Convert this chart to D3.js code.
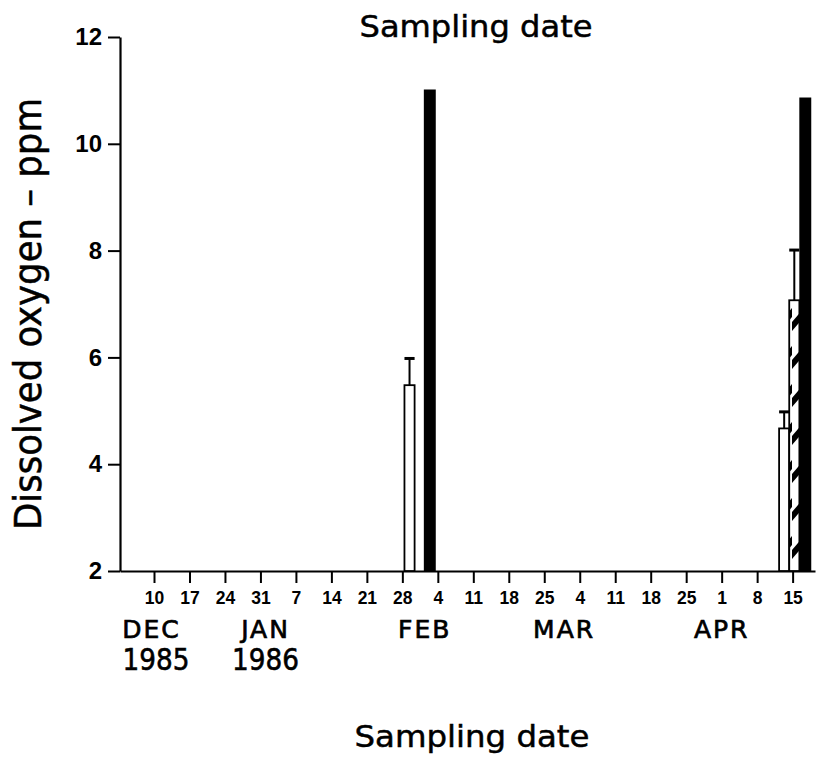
<!DOCTYPE html>
<html>
<head>
<meta charset="utf-8">
<script src="https://cdn.jsdelivr.net/npm/d3@7/dist/d3.min.js"></script>
<style>
html,body{margin:0;padding:0;background:#fff;}
svg{display:block;}
</style>
</head>
<body>
<svg id="chart" width="822" height="762"></svg>
<script>
// ---- data ----
const weekTicks = ["1985-12-10","1985-12-17","1985-12-24","1985-12-31","1986-01-07","1986-01-14","1986-01-21","1986-01-28","1986-02-04","1986-02-11","1986-02-18","1986-02-25","1986-03-04","1986-03-11","1986-03-18","1986-03-25","1986-04-01","1986-04-08","1986-04-15"];
const monthLabels = ["DEC","JAN","FEB","MAR","APR"];
const monthLabelDates = ["1985-12-09T12:00","1986-01-01T00:00","1986-02-01T10:00","1986-02-28T22:00","1986-04-01T00:00"];
const yearLabels = ["1985","1986"];
const yearLabelDates = ["1985-12-10T10:00","1986-01-01T00:00"];
const yTicks = [2,4,6,8,10,12];

// bar centre dates and values, one array per series
const openDates = ["1986-01-29T10:00","1986-04-13T08:00"];
const openValues = [5.48, 4.67];
const openErrors = [5.98, 4.98];
const hatchedDates = ["1986-04-15T08:00"];
const hatchedValues = [7.07];
const hatchedErrors = [8.01];
const blackDates = ["1986-02-02T10:00","1986-04-17T12:00"];
const blackValues = [11.0, 10.85];

const parse = s => new Date(s.length > 10 ? s : s + "T00:00");

const svg = d3.select("#chart");
const mLeft = 120, mRight = 815, mTop = 37, mBottom = 571;

const x = d3.scaleTime()
  .domain([parse("1985-12-03T07:00"), parse("1986-04-19T10:00")])
  .range([mLeft, mRight]);
const y = d3.scaleLinear().domain([2, 12]).range([mBottom, mTop]);

const barDays = 2; // bar width in days
const barW = d => (x(d3.timeHour.offset(d, barDays*12)) - x(d3.timeHour.offset(d, -barDays*12)));

// hatch pattern
const defs = svg.append("defs");
const pat = defs.append("pattern")
  .attr("id", "hatch")
  .attr("patternUnits", "userSpaceOnUse")
  .attr("width", 12).attr("height", 38);
pat.append("rect").attr("width", 12).attr("height", 38).attr("fill", "#fff");
pat.append("polygon").attr("points", "0,18 12,4 12,13 0,27").attr("fill", "#000");

// axes
const xAxis = d3.axisBottom(x)
  .tickValues(weekTicks.map(parse))
  .tickFormat(d3.timeFormat("%-d"))
  .tickSize(12).tickSizeOuter(0).tickPadding(9);
const gx = svg.append("g").attr("transform", `translate(0,${mBottom})`).call(xAxis);
gx.select(".domain").attr("stroke-width", 2.2);
gx.selectAll(".tick line").attr("stroke-width", 2);
gx.selectAll(".tick text").attr("font-family", "Liberation Sans, Arial, sans-serif")
  .attr("font-weight", "bold").attr("font-size", 17.5).attr("fill", "#000");

const yAxis = d3.axisLeft(y).tickValues(yTicks).tickSize(12).tickSizeOuter(0).tickPadding(6);
const gy = svg.append("g").attr("transform", `translate(${mLeft},0)`).call(yAxis);
gy.select(".domain").attr("stroke-width", 2.2);
gy.selectAll(".tick line").attr("stroke-width", 2);
gy.selectAll(".tick text").attr("font-family", "Liberation Sans, Arial, sans-serif")
  .attr("font-weight", "bold").attr("font-size", 24).attr("fill", "#000");

// bars
function drawBars(dates, values, fill, cls) {
  const g = svg.append("g").attr("class", cls);
  dates.forEach((ds, i) => {
    const d = parse(ds);
    const w = barW(d);
    const x0 = x(d) - w/2;
    g.append("rect")
      .attr("x", x0).attr("y", y(values[i]))
      .attr("width", w).attr("height", y(2) - y(values[i]))
      .attr("fill", fill).attr("stroke", "#000").attr("stroke-width", 1.8);
  });
}
function drawErrors(dates, values, errs) {
  const g = svg.append("g");
  dates.forEach((ds, i) => {
    const d = parse(ds);
    const w = barW(d);
    const cx = x(d);
    g.append("line").attr("x1", cx).attr("x2", cx)
      .attr("y1", y(values[i])).attr("y2", y(errs[i]))
      .attr("stroke", "#000").attr("stroke-width", 2);
    g.append("line").attr("x1", cx - w/2).attr("x2", cx + w/2)
      .attr("y1", y(errs[i])).attr("y2", y(errs[i]))
      .attr("stroke", "#000").attr("stroke-width", 3);
  });
}
drawBars(openDates, openValues, "#fff", "open");
drawErrors(openDates, openValues, openErrors);
drawBars(hatchedDates, hatchedValues, "url(#hatch)", "hatched");
drawErrors(hatchedDates, hatchedValues, hatchedErrors);
drawBars(blackDates, blackValues, "#000", "black");

// month and year labels
const labFont = "DejaVu Sans, sans-serif";
svg.append("g").selectAll("text").data(monthLabels).join("text")
  .attr("x", (d, i) => x(parse(monthLabelDates[i])))
  .attr("y", 638)
  .attr("text-anchor", "middle")
  .attr("font-family", labFont).attr("font-size", 25)
  .attr("letter-spacing", 2)
  .attr("fill", "#000")
  .attr("stroke", "#000").attr("stroke-width", 0.7)
  .text(d => d);
svg.append("g").selectAll("text").data(yearLabels).join("text")
  .attr("x", (d, i) => x(parse(yearLabelDates[i])))
  .attr("y", 670)
  .attr("text-anchor", "middle")
  .attr("font-family", labFont).attr("font-size", 30)
  .attr("fill", "#000")
  .attr("stroke", "#000").attr("stroke-width", 0.6)
  .attr("textLength", 67).attr("lengthAdjust", "spacingAndGlyphs")
  .text(d => d);

// titles
svg.append("text").attr("x", 476).attr("y", 37).attr("text-anchor", "middle")
  .attr("font-family", "DejaVu Sans, sans-serif").attr("font-size", 31).attr("fill", "#000")
  .attr("stroke", "#000").attr("stroke-width", 0.5)
  .attr("textLength", 233).attr("lengthAdjust", "spacingAndGlyphs")
  .text("Sampling date");
svg.append("text").attr("x", 472).attr("y", 747).attr("text-anchor", "middle")
  .attr("font-family", "DejaVu Sans, sans-serif").attr("font-size", 31).attr("fill", "#000")
  .attr("stroke", "#000").attr("stroke-width", 0.5)
  .attr("textLength", 235).attr("lengthAdjust", "spacingAndGlyphs")
  .text("Sampling date");
svg.append("text")
  .attr("transform", "translate(41,314) rotate(-90)")
  .attr("text-anchor", "middle")
  .attr("font-family", "DejaVu Sans, sans-serif").attr("font-size", 37).attr("fill", "#000")
  .attr("stroke", "#000").attr("stroke-width", 0.5)
  .attr("textLength", 432).attr("lengthAdjust", "spacingAndGlyphs")
  .text("Dissolved oxygen – ppm");
</script>
</body>
</html>
